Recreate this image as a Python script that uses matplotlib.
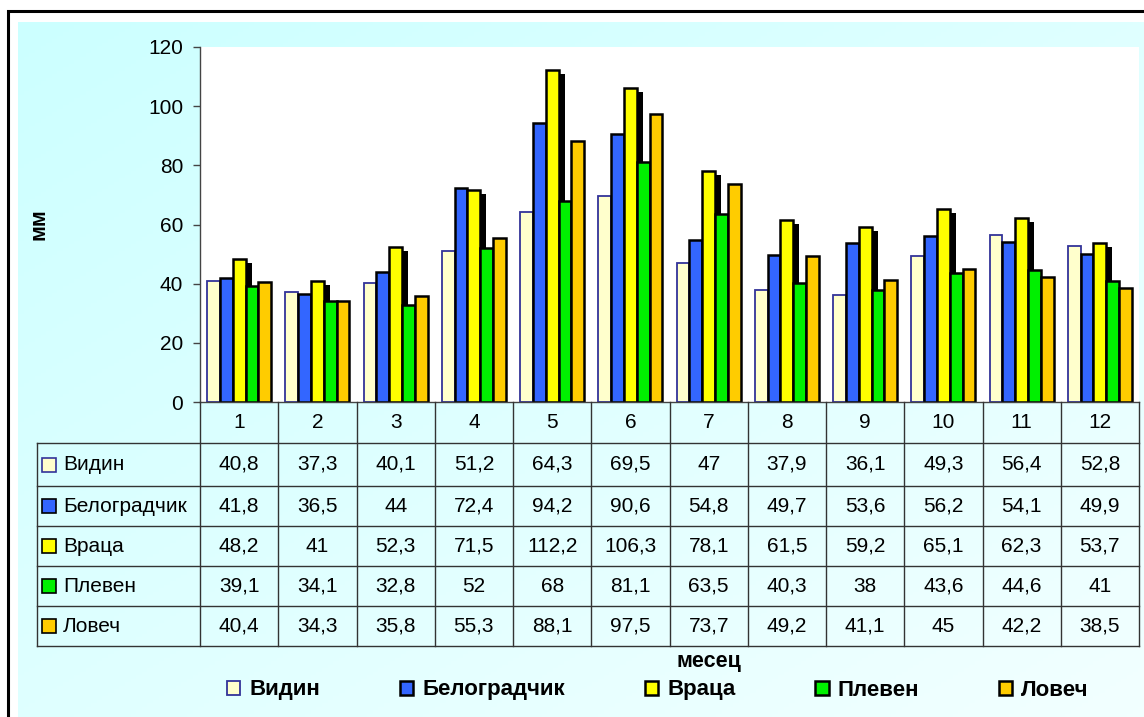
import matplotlib.pyplot as plt
import numpy as np
from matplotlib.patches import Rectangle
from matplotlib.transforms import ScaledTranslation

plt.rcParams['font.family'] = ['Liberation Sans', 'DejaVu Sans']

months = ['1', '2', '3', '4', '5', '6', '7', '8', '9', '10', '11', '12']
stations = ['Видин', 'Белоградчик', 'Враца', 'Плевен', 'Ловеч']
vidin = [40.8, 37.3, 40.1, 51.2, 64.3, 69.5, 47, 37.9, 36.1, 49.3, 56.4, 52.8]
belogradchik = [41.8, 36.5, 44, 72.4, 94.2, 90.6, 54.8, 49.7, 53.6, 56.2, 54.1, 49.9]
vratsa = [48.2, 41, 52.3, 71.5, 112.2, 106.3, 78.1, 61.5, 59.2, 65.1, 62.3, 53.7]
pleven = [39.1, 34.1, 32.8, 52, 68, 81.1, 63.5, 40.3, 38, 43.6, 44.6, 41]
lovech = [40.4, 34.3, 35.8, 55.3, 88.1, 97.5, 73.7, 49.2, 41.1, 45, 42.2, 38.5]

series = [vidin, belogradchik, vratsa, pleven, lovech]
fills = ['#ffffcc', '#3366ff', '#ffff00', '#00f000', '#ffcc00']
edges = ['#333399', 'black', 'black', 'black', 'black']

W, H = 1144, 717
fig = plt.figure(figsize=(W / 100, H / 100), dpi=100)
fig.patch.set_facecolor('white')


def box(l, t, r, b):
    # pixel box (from top-left) -> figure fraction rect
    return [l / W, 1 - b / H, (r - l) / W, (b - t) / H]


# cyan gradient background
bg = fig.add_axes(box(18, 22, W, H), zorder=-2)
gx, gy = np.meshgrid(np.linspace(0, 1, 200), np.linspace(0, 1, 200))
t = (gx + gy) / 2
img = np.dstack([0.80 + 0.15 * t, np.ones_like(t), np.ones_like(t)])
bg.imshow(img, aspect='auto', extent=(0, 1, 1, 0))
bg.axis('off')

# outer black frame
fig.patches.append(Rectangle((8 / W, -0.1), 1.2, 1 - 11 / H + 0.1,
                             transform=fig.transFigure, fill=False,
                             lw=2.2, ec='black'))

# main chart
ax = fig.add_axes(box(200, 47, 1139, 402))
ax.set_facecolor('white')
x = np.arange(len(months))
w = 0.164
bars = []
for k, vals in enumerate(series):
    xs = x + (k - 2) * w
    if k == 2:
        # black shadow behind Враца
        off = ScaledTranslation(6 / 100, -4 / 100, fig.dpi_scale_trans)
        ax.bar(xs, vals, w, color='black', lw=0,
               transform=ax.transData + off, zorder=1)
    b = ax.bar(xs, vals, w, color=fills[k], edgecolor=edges[k],
               lw=1.3 if k == 0 else 1.8, zorder=2)
    bars.append(b)

ax.set_xlim(-0.5, 11.5)
ax.set_ylim(0, 120)
ax.set_yticks(range(0, 121, 20))
ax.set_xticks([])
ax.tick_params(axis='y', length=5, width=1, color='#444444', pad=7,
               labelsize=15)
for s in ['top', 'right']:
    ax.spines[s].set_visible(False)
for s in ['left', 'bottom']:
    ax.spines[s].set_color('#444444')
    ax.spines[s].set_linewidth(1)

# data table under the chart
tab = fig.add_axes(box(37, 402, 1139, 646))
tab.axis('off')
colw = (1139 - 200) / 12
x0 = -0.5 - (200 - 37) / colw
tab.set_xlim(x0, 11.5)
rb = [0, 41, 84, 124, 164, 204, 244]
tab.set_ylim(rb[-1], 0)
lc = '#333333'
for yy in rb[1:]:
    tab.plot([x0, 11.5], [yy, yy], color=lc, lw=1, clip_on=False)
tab.plot([x0, x0], [rb[1], rb[-1]], color=lc, lw=1, clip_on=False)
for c in np.arange(-0.5, 12):
    tab.plot([c, c], [rb[0], rb[-1]], color=lc, lw=1, clip_on=False)

for i, m in enumerate(months):
    tab.text(i, (rb[0] + rb[1]) / 2, m, ha='center', va='center', size=15)

for k, vals in enumerate(series):
    yc = (rb[k + 1] + rb[k + 2]) / 2
    tab.plot([x0 + 11.5 / colw], [yc], marker='s', ms=9.4, mfc=fills[k],
             mec=edges[k], mew=1.2, clip_on=False)
    tab.text(x0 + 26 / colw, yc, stations[k], ha='left', va='center', size=15)
    for i, v in enumerate(vals):
        tab.text(i, yc, f'{v:g}'.replace('.', ','), ha='center',
                 va='center', size=15)

# axis titles
fig.text(709 / W, 1 - 661 / H, 'месец', ha='center', va='center',
         weight='bold', size=15.5)
fig.text(39 / W, 1 - 224 / H, 'мм', ha='center', va='center',
         rotation=90, weight='bold', size=15.5)

fig.legend(bars, stations, loc='center', bbox_to_anchor=(658 / W, 1 - 690 / H),
           ncol=5, frameon=False, prop={'weight': 'bold', 'size': 16},
           handlelength=0.6, handleheight=0.6, handletextpad=0.4,
           columnspacing=3.6)

fig.savefig('out.png', dpi=100)
